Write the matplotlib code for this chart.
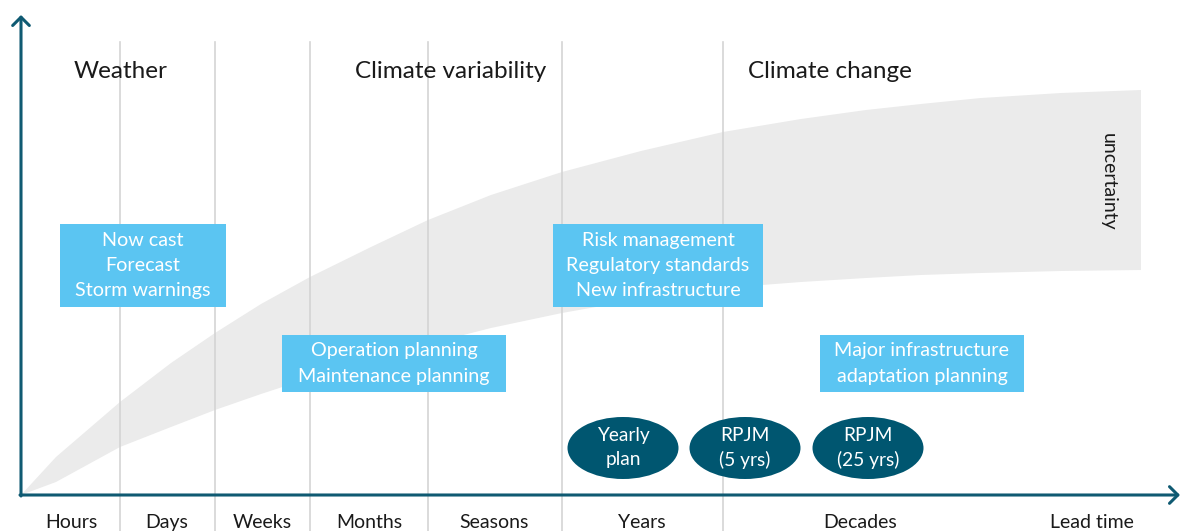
import matplotlib
matplotlib.use("Agg")
import matplotlib.pyplot as plt
from matplotlib.patches import Rectangle, Ellipse, Polygon

plt.rcParams['font.family'] = ['Lato', 'DejaVu Sans']

# ---- data (diagram units: origin at axes corner) ----
tick_pos = [50, 146, 241, 348, 473, 621, 839, 1071]
tick_labels = ["Hours", "Days", "Weeks", "Months", "Seasons", "Years", "Decades", "Lead time"]
grid_x = [99, 194, 289, 407, 541, 702]

band_x = [0, 35, 99, 150, 194, 240, 289, 350, 407, 470, 541, 620, 702, 780, 845, 900, 960, 1040, 1120]
band_top = [0, 38, 93, 132, 162, 191, 218, 248, 275, 300, 323, 344, 363, 376, 385, 391, 397, 402, 405]
band_bot = [0, 13, 48, 68, 85, 101, 117, 134, 151, 167, 182, 196, 207, 213, 217, 220, 222, 224, 225]

headings = ["Weather", "Climate variability", "Climate change"]
heading_x = [53, 334, 727]

box_texts = ["Now cast\nForecast\nStorm warnings",
             "Operation planning\nMaintenance planning",
             "Risk management\nRegulatory standards\nNew infrastructure",
             "Major infrastructure\nadaptation planning"]
box_x0 = [39, 261, 532, 799]
box_x1 = [205, 485, 742, 1003]
box_y0 = [188, 103, 188, 103]
box_y1 = [271, 160, 271, 160]

oval_texts = ["Yearly\nplan", "RPJM\n(5 yrs)", "RPJM\n(25 yrs)"]
oval_x = [602, 724, 847]
oval_y = [47, 47, 47]
oval_w = 111
oval_h = 62

TEAL = "#0f5a72"
OVAL = "#005670"
BOX = "#5bc5f2"
BAND = "#ebebeb"
GRID = "#d4d4d4"

W, H = 1184, 531
fig = plt.figure(figsize=(W / 100, H / 100), dpi=100)
ox, oy = 21, 495          # axes origin in pixels (from top-left)
xend, ytop = 1180, 15
ax = fig.add_axes([ox / W, (H - oy) / H, (xend - ox) / W, (oy - ytop) / H])
ax.set_xlim(0, xend - ox)
ax.set_ylim(0, oy - ytop)
for s in ax.spines.values():
    s.set_visible(False)
ax.set_yticks([])
ax.set_xticks(tick_pos)
ax.set_xticklabels(tick_labels, fontsize=14, color="#1a1a1a")
ax.tick_params(axis='x', length=0, pad=14)

# uncertainty band
pts = list(zip(band_x, band_top)) + list(zip(band_x[::-1], band_bot[::-1]))
ax.add_patch(Polygon(pts, closed=True, facecolor=BAND, edgecolor='none', zorder=1))
ax.text(1087, 313, "uncertainty", rotation=-90, ha='center', va='center',
        fontsize=14, color="#1a1a1a", zorder=3)

# grid lines
for gx in grid_x:
    ax.plot([gx, gx], [-40, 453], color=GRID, lw=1.2, zorder=2, clip_on=False)

# headings
for t, hx in zip(headings, heading_x):
    ax.text(hx, 423, t, ha='left', va='center', fontsize=17.5, color="#1a1a1a", zorder=3)

# boxes
for t, x0, x1, y0, y1 in zip(box_texts, box_x0, box_x1, box_y0, box_y1):
    ax.add_patch(Rectangle((x0, y0), x1 - x0, y1 - y0, facecolor=BOX, edgecolor='none', zorder=4))
    ax.text((x0 + x1) / 2, (y0 + y1) / 2, t, ha='center', va='center', fontsize=14.2,
            color='white', linespacing=1.6, zorder=5)

# ovals
for t, cx, cy in zip(oval_texts, oval_x, oval_y):
    ax.add_patch(Ellipse((cx, cy), oval_w, oval_h, facecolor=OVAL, edgecolor='none', zorder=4))
    ax.text(cx, cy, t, ha='center', va='center', fontsize=13.8, color='white',
            linespacing=1.5, zorder=5)

# axes arrows
arr = dict(arrowstyle='->,head_length=0.6,head_width=0.6', color=TEAL, lw=2.2,
           shrinkA=0, shrinkB=0)
ax.annotate("", xy=(0, oy - ytop), xytext=(0, -1), arrowprops=arr, annotation_clip=False)
ax.annotate("", xy=(xend - ox, 0), xytext=(-1, 0), arrowprops=arr, annotation_clip=False)

fig.savefig("out.png", dpi=100)
